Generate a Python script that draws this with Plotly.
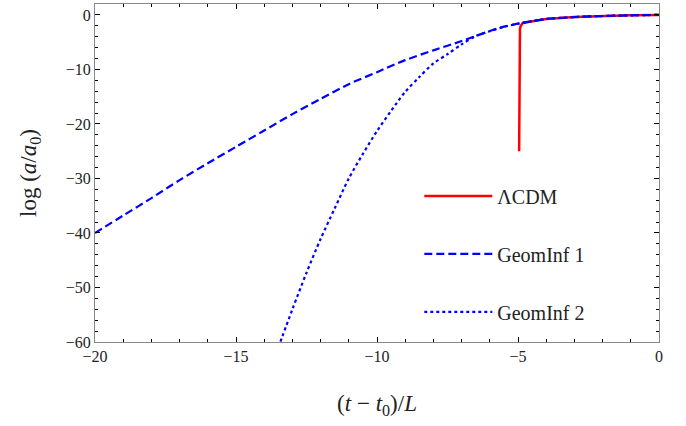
import plotly.graph_objects as go

# ΛCDM
t_lcdm = [-4.96, -4.957, -4.954, -4.95, -4.945, -4.94, -4.93, -4.91, -4.88, -4.84, -4.8, -4.5, -4.0, -3.0, -2.0, -1.0, 0.0]
y_lcdm = [-25.0, -14.0, -8.0, -5.0, -3.8, -3.2, -2.6, -2.1, -1.75, -1.55, -1.45, -1.15, -0.75, -0.4, -0.2, -0.08, 0.0]

# GeomInf 1
t_g1 = [-20, -19, -18, -17, -16, -15, -14, -13, -12, -11, -10, -9, -8, -7, -6, -5.5, -5, -4.5, -4, -3, -2, -1, 0]
y_g1 = [-40.0, -36.8, -33.6, -30.3, -27.2, -24.2, -21.2, -18.2, -15.4, -12.7, -10.5, -8.3, -6.5, -4.8, -2.95, -2.15, -1.6, -1.15, -0.75, -0.4, -0.2, -0.08, 0.0]

# GeomInf 2
t_g2 = [-13.5, -13.0, -12.5, -12.0, -11.5, -11.0, -10.5, -10.0, -9.5, -9.0, -8.5, -8.0, -7.5, -7.0, -6.5, -6.0, -5.5, -5.0, -4.5, -4.0, -3.0, -2.0, -1.0, 0.0]
y_g2 = [-61.0, -54.0, -47.3, -41.1, -35.5, -30.0, -25.5, -21.3, -17.6, -14.1, -11.4, -8.9, -7.2, -5.4, -3.9, -3.0, -2.2, -1.62, -1.15, -0.75, -0.4, -0.2, -0.08, 0.0]

x_ticks = [-20, -15, -10, -5, 0]
y_ticks = [0, -10, -20, -30, -40, -50, -60]

font_family = "Liberation Serif, DejaVu Serif, serif"

fig = go.Figure()
fig.add_trace(go.Scatter(x=t_lcdm, y=y_lcdm, mode="lines", name="ΛCDM",
                         line=dict(color="#ff0000", width=2.5), legendgroup="a"))
fig.add_trace(go.Scatter(x=t_g1, y=y_g1, mode="lines", name="GeomInf 1",
                         line=dict(color="#0000ff", width=2.2, dash="8px,4px", shape="spline", smoothing=0.8),
                         legendgroup="b"))
fig.add_trace(go.Scatter(x=t_g2, y=y_g2, mode="lines", name="GeomInf 2",
                         line=dict(color="#0000ff", width=2.2, dash="3px,3px", shape="spline", smoothing=0.8),
                         legendgroup="c"))

axis_common = dict(
    showgrid=False, zeroline=False, showline=True, linecolor="#888888", linewidth=1,
    mirror="allticks", ticks="inside", ticklen=5, tickcolor="black", tickwidth=1,
    tickfont=dict(family=font_family, size=16, color="#222222"),
)

fig.update_xaxes(range=[-20, 0], tickvals=x_ticks,
                 minor=dict(dtick=1, ticks="inside", ticklen=3, tickcolor="black"),
                 title=dict(text="(<i>t</i> − <i>t</i><sub>0</sub>)/<i>L</i>",
                            font=dict(family=font_family, size=23, color="#222222"), standoff=30),
                 **axis_common)
fig.update_yaxes(range=[-60, 2.0], tickvals=y_ticks,
                 minor=dict(dtick=2, ticks="inside", ticklen=3, tickcolor="black"),
                 title=dict(text="log (<i>a</i>/<i>a</i><sub>0</sub>)",
                            font=dict(family=font_family, size=23, color="#222222"), standoff=22),
                 **axis_common)

fig.update_layout(
    width=686, height=426,
    margin=dict(l=95, r=27, t=4, b=84),
    paper_bgcolor="white", plot_bgcolor="white",
    showlegend=True,
    legend=dict(x=0.575, y=0.49, xanchor="left", yanchor="top",
                font=dict(family=font_family, size=20, color="#222222"),
                bgcolor="rgba(0,0,0,0)", tracegroupgap=29, itemwidth=68),
)

fig.write_html("out.html", config={"displayModeBar": False},
               post_script="document.body.style.margin='0';document.body.style.padding='0';")
